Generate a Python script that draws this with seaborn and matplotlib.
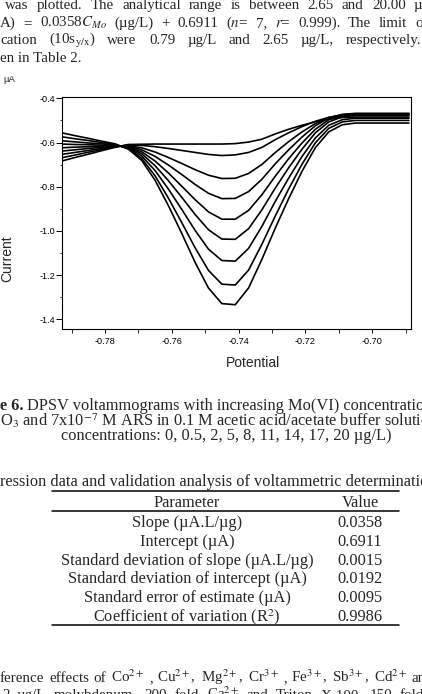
import numpy as np
import pandas as pd
import matplotlib
matplotlib.use("Agg")
import matplotlib.pyplot as plt
from matplotlib.lines import Line2D
from matplotlib.ticker import MultipleLocator, FormatStrFormatter
import seaborn as sns

# ---------------- data ----------------
potential = [-0.793, -0.789, -0.785, -0.781, -0.777, -0.773, -0.769, -0.765, -0.761,
             -0.757, -0.753, -0.749, -0.745, -0.741, -0.737, -0.733, -0.729, -0.725,
             -0.721, -0.717, -0.713, -0.709, -0.705, -0.701, -0.697, -0.693, -0.689]

concentrations = ["0", "0.5", "2", "5", "8", "11", "14", "17", "20"]

current_0 = [-0.684, -0.668, -0.653, -0.637, -0.622, -0.609, -0.608, -0.607, -0.607,
             -0.607, -0.607, -0.607, -0.607, -0.605, -0.598, -0.585, -0.561, -0.540,
             -0.522, -0.506, -0.494, -0.487, -0.485, -0.485, -0.485, -0.485, -0.485]
current_05 = [-0.669, -0.657, -0.644, -0.632, -0.620, -0.611, -0.613, -0.619, -0.627,
              -0.636, -0.645, -0.654, -0.659, -0.656, -0.645, -0.622, -0.587, -0.556,
              -0.528, -0.504, -0.486, -0.478, -0.475, -0.475, -0.475, -0.475, -0.475]
current_2 = [-0.654, -0.645, -0.636, -0.627, -0.618, -0.614, -0.624, -0.643, -0.668,
             -0.695, -0.723, -0.748, -0.763, -0.762, -0.740, -0.699, -0.645, -0.596,
             -0.552, -0.514, -0.487, -0.474, -0.470, -0.470, -0.470, -0.470, -0.470]
current_5 = [-0.639, -0.633, -0.627, -0.622, -0.616, -0.616, -0.633, -0.663, -0.702,
             -0.745, -0.790, -0.830, -0.854, -0.853, -0.822, -0.766, -0.696, -0.633,
             -0.575, -0.524, -0.489, -0.473, -0.468, -0.468, -0.468, -0.468, -0.468]
current_8 = [-0.624, -0.621, -0.619, -0.616, -0.614, -0.619, -0.642, -0.684, -0.738,
             -0.798, -0.859, -0.914, -0.947, -0.947, -0.907, -0.836, -0.752, -0.673,
             -0.602, -0.540, -0.497, -0.478, -0.472, -0.472, -0.472, -0.472, -0.472]
current_11 = [-0.607, -0.609, -0.610, -0.612, -0.613, -0.622, -0.651, -0.705, -0.773,
              -0.848, -0.926, -0.995, -1.037, -1.038, -0.990, -0.904, -0.806, -0.714,
              -0.630, -0.556, -0.507, -0.484, -0.478, -0.478, -0.478, -0.478, -0.478]
current_14 = [-0.592, -0.597, -0.602, -0.606, -0.611, -0.624, -0.661, -0.727, -0.811,
              -0.903, -0.998, -1.083, -1.134, -1.137, -1.079, -0.979, -0.866, -0.761,
              -0.663, -0.579, -0.522, -0.497, -0.490, -0.490, -0.490, -0.490, -0.490]
current_17 = [-0.574, -0.583, -0.591, -0.600, -0.609, -0.628, -0.672, -0.751, -0.852,
              -0.963, -1.077, -1.179, -1.241, -1.245, -1.177, -1.060, -0.932, -0.810,
              -0.698, -0.601, -0.536, -0.507, -0.500, -0.500, -0.500, -0.500, -0.500]
current_20 = [-0.556, -0.569, -0.581, -0.594, -0.606, -0.630, -0.681, -0.771, -0.886,
              -1.012, -1.143, -1.259, -1.329, -1.334, -1.258, -1.128, -0.987, -0.854,
              -0.730, -0.623, -0.552, -0.520, -0.512, -0.512, -0.512, -0.512, -0.512]

currents = [current_0, current_05, current_2, current_5, current_8,
            current_11, current_14, current_17, current_20]

table_params = ["Slope (µA.L/µg)", "Intercept (µA)",
                "Standard deviation of slope (µA.L/µg)",
                "Standard deviation of intercept (µA)",
                "Standard error of estimate (µA)",
                "Coefficient of variation (R$^2$)"]
table_values = ["0.0358", "0.6911", "0.0015", "0.0192", "0.0095", "0.9986"]

xticks = [-0.78, -0.76, -0.74, -0.72, -0.70]
yticks = [-1.4, -1.2, -1.0, -0.8, -0.6, -0.4]

# ---------------- long-form table ----------------
rows = []
for c, cur in zip(concentrations, currents):
    for p, v in zip(potential, cur):
        rows.append({"conc": c, "potential": p, "current": v})
df = pd.DataFrame(rows)

# ---------------- style ----------------
sns.set_style("ticks")
plt.rcParams["font.family"] = ["Liberation Sans", "DejaVu Sans"]
plt.rcParams["axes.unicode_minus"] = False
plt.rcParams["mathtext.fontset"] = "stix"

W, H = 422, 694
fig = plt.figure(figsize=(W / 100, H / 100), dpi=100)
fig.patch.set_facecolor("white")

ax = fig.add_axes([62.3 / W, 1 - 329 / H, (410.7 - 62.3) / W, (329 - 97) / H])
sns.lineplot(data=df, x="potential", y="current", units="conc", estimator=None,
             color="black", lw=1.2, sort=False, legend=False, ax=ax)

ax.set_xlim(-0.79278, -0.68847)
ax.set_ylim(-1.4439, -0.3941)
ax.set_xticks(xticks)
ax.set_yticks(yticks)
ax.xaxis.set_minor_locator(MultipleLocator(0.01))
ax.yaxis.set_minor_locator(MultipleLocator(0.1))
ax.xaxis.set_major_formatter(FormatStrFormatter("%.2f"))
ax.yaxis.set_major_formatter(FormatStrFormatter("%.1f"))
ax.set_xlabel("")
ax.set_ylabel("")
for s in ax.spines.values():
    s.set_visible(True)
    s.set_linewidth(0.8)
    s.set_color("black")
ax.tick_params(axis="x", which="major", length=3, width=0.7, pad=2.5,
               labelsize=6.6, colors="black", direction="out")
ax.tick_params(axis="x", which="minor", length=3, width=0.7, direction="out")
ax.tick_params(axis="y", which="major", length=4.3, width=0.7, pad=0.8,
               labelsize=6.6, colors="black", direction="out")
ax.tick_params(axis="y", which="minor", length=1.8, width=0.7, direction="out")
ax.grid(False)

renderer = fig.canvas.get_renderer()


def ptxt(x, y, s, **kw):
    return fig.text(x / W, 1 - y / H, s, **kw)


def width_px(s, **kw):
    t = fig.text(0, 0, s, **kw)
    w = t.get_window_extent(renderer).width
    t.remove()
    return w


def justify(words, x0, x_last, y, **kw):
    """Place words so the first starts at x0 and the last starts at x_last."""
    widths = [width_px(w, **kw) for w in words[:-1]]
    gap = (x_last - x0 - sum(widths)) / (len(words) - 1)
    x = x0
    for w, wd in zip(words, widths + [0]):
        ptxt(x, y, w, va="baseline", **kw)
        x += wd + gap


def hrule(x1, x2, y, lw=1.1):
    fig.add_artist(Line2D([x1 / W, x2 / W], [1 - y / H, 1 - y / H],
                          transform=fig.transFigure, color="black", lw=lw))


# chart labels
ptxt(9, 79, "µA", fontsize=6.8, ha="center", va="center")
ptxt(7, 259, "Current", fontsize=10, rotation=90, ha="center", va="center")
ptxt(253, 363, "Potential", fontsize=10, ha="center", va="center")

serif = ["Liberation Serif", "DejaVu Serif"]
pfs = 10.8
pkw = dict(fontsize=pfs, family=serif)

# paragraph above
justify(["was", "plotted.", "The", "analytical", "range", "is", "between",
         "2.65", "and", "20.00", "µg/L"], 5, 414, 9, **pkw)
justify(["A)", "=", r"0.0358$C_{Mo}$", "(µg/L)", "+", "0.6911", r"($n$=", "7,",
         r"$r$=", "0.999).", "The", "limit", "of"], 0, 415, 26.7, **pkw)
w_last = width_px("respectively.", **pkw)
justify(["cation", r"(10s$_{\mathrm{y/x}}$)", "were", "0.79", "µg/L", "and",
         "2.65", "µg/L,", "respectively."], 0, 421.5 - w_last, 44, **pkw)
ptxt(0, 61.7, "en in Table 2.", va="baseline", **pkw)

# caption
cfs = 11.8
ckw = dict(fontsize=cfs, family=serif)
ptxt(0, 410.5, "e 6.", weight="bold", va="baseline", **ckw)
ptxt(27, 410.5, "DPSV voltammograms with increasing Mo(VI) concentration",
     va="baseline", **ckw)
ptxt(0, 425.5, r"O$_3$ and 7x10$^{-7}$ M ARS in 0.1 M acetic acid/acetate buffer solution",
     va="baseline", **ckw)
ptxt(226, 440.5, "concentrations: 0, 0.5, 2, 5, 8, 11, 14, 17, 20 µg/L)",
     va="baseline", ha="center", **ckw)

# table
ptxt(0, 485.7, "ression data and validation analysis of voltammetric determination",
     va="baseline", **ckw)
hrule(51.7, 399, 491)
hrule(51.7, 399, 510.7)
hrule(51.7, 399, 625)
ptxt(187, 506.7, "Parameter", va="baseline", ha="center", **ckw)
ptxt(360, 506.7, "Value", va="baseline", ha="center", **ckw)
row_y = [527.3, 546, 565, 583.3, 602.3, 621]
for yy, p, v in zip(row_y, table_params, table_values):
    ptxt(187, yy, p, va="baseline", ha="center", **ckw)
    ptxt(360, yy, v, va="baseline", ha="center", **ckw)

# paragraph below
justify(["ference", "effects", "of", r"Co$^{2+}$", ",", r"Cu$^{2+}$,", r"Mg$^{2+}$,",
         r"Cr$^{3+}$", ",", r"Fe$^{3+}$,", r"Sb$^{3+}$,", r"Cd$^{2+}$", "and"],
        0, 412, 681.7, **pkw)
justify(["2", "µg/L", "molybdenum,", "200", "fold", r"Ca$^{2+}$", "and", "Triton",
         "X-100,", "150", "fold"], 2, 400, 699, **pkw)

fig.savefig("out.png", dpi=100, facecolor="white")
